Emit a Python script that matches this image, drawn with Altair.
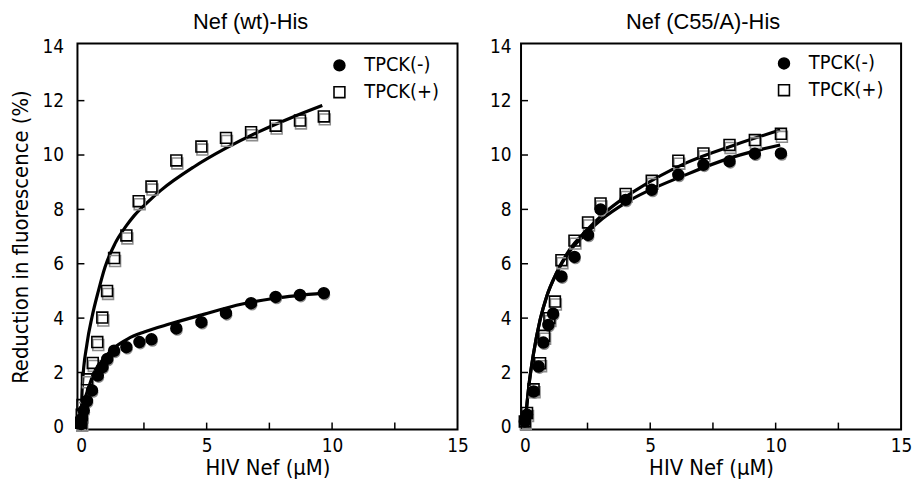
import altair as alt
import pandas as pd

SERIES = ["TPCK(-)", "TPCK(+)"]
TITLES = ["Nef (wt)-His", "Nef (C55/A)-His"]
X_TITLE = "HIV Nef (μM)"
Y_TITLE = "Reduction in fluorescence (%)"
X_LABELS = [0, 5, 10, 15]
X_TICKS = [2.5, 5, 7.5, 10, 12.5]
Y_LABELS = [0, 2, 4, 6, 8, 10, 12, 14]
Y_TICKS = [2, 4, 6, 8, 10, 12]

# ---- Nef (wt)-His ----
wt_minus_x = [0.0, 0.03, 0.10, 0.23, 0.43, 0.66, 0.85, 1.04, 1.31, 1.80, 2.32, 2.80, 3.79, 4.79, 5.77, 6.77, 7.75, 8.72, 9.67]
wt_minus_y = [0.1, 0.3, 0.6, 0.95, 1.34, 1.89, 2.20, 2.50, 2.80, 2.93, 3.12, 3.22, 3.62, 3.85, 4.18, 4.55, 4.78, 4.85, 4.92]
wt_plus_x = [0.0, 0.02, 0.05, 0.23, 0.46, 0.64, 0.84, 1.03, 1.31, 1.80, 2.29, 2.80, 3.79, 4.79, 5.77, 6.77, 7.75, 8.72, 9.67]
wt_plus_y = [0.15, 0.45, 0.8, 1.75, 2.35, 3.12, 4.02, 5.0, 6.21, 7.04, 8.30, 8.84, 9.80, 10.31, 10.63, 10.84, 11.08, 11.27, 11.42]
wt_minus_fit_x = [0.0, 0.04, 0.30, 0.56, 0.95, 1.34, 1.86, 2.51, 3.55, 4.73, 6.42, 7.72, 9.67]
wt_minus_fit_y = [0.1, 0.49, 1.46, 2.08, 2.57, 2.93, 3.24, 3.49, 3.79, 4.10, 4.52, 4.73, 4.92]
wt_plus_fit_x = [0.0, 0.04, 0.23, 0.43, 0.69, 0.95, 1.34, 1.80, 2.12, 2.65, 3.16, 4.47, 5.77, 7.07, 8.37, 9.61]
wt_plus_fit_y = [0.2, 1.46, 3.06, 4.04, 5.02, 5.88, 6.73, 7.40, 7.78, 8.27, 8.69, 9.55, 10.25, 10.85, 11.37, 11.82]

# ---- Nef (C55/A)-His ----
c55_minus_x = [0.0, 0.09, 0.35, 0.55, 0.74, 0.94, 1.13, 1.46, 1.98, 2.52, 3.02, 4.02, 5.06, 6.12, 7.12, 8.16, 9.17, 10.21]
c55_minus_y = [0.2, 0.45, 1.30, 2.22, 3.10, 3.75, 4.16, 5.53, 6.25, 7.06, 8.0, 8.35, 8.72, 9.27, 9.64, 9.77, 10.05, 10.06]
c55_plus_x = [0.0, 0.09, 0.35, 0.61, 0.77, 0.98, 1.20, 1.46, 1.98, 2.52, 3.02, 4.02, 5.06, 6.12, 7.12, 8.16, 9.17, 10.21]
c55_plus_y = [0.2, 0.51, 1.38, 2.34, 3.35, 4.0, 4.61, 6.13, 6.85, 7.52, 8.22, 8.57, 9.05, 9.79, 10.06, 10.37, 10.55, 10.78]
c55_minus_fit_x = [0.0, 0.16, 0.35, 0.61, 0.87, 1.26, 1.78, 2.43, 3.09, 4.0, 6.41, 8.36, 10.18]
c55_minus_fit_y = [0.0, 1.49, 2.71, 3.94, 4.79, 5.65, 6.45, 7.10, 7.65, 8.23, 9.27, 9.94, 10.37]
c55_plus_fit_x = [0.0, 0.16, 0.35, 0.61, 0.87, 1.26, 1.78, 2.43, 3.09, 4.0, 4.45, 6.41, 8.36, 10.18]
c55_plus_fit_y = [0.0, 1.49, 2.71, 3.94, 4.79, 5.65, 6.51, 7.20, 7.80, 8.45, 8.72, 9.70, 10.37, 10.92]


def long(mx, my, px, py):
    return pd.concat([
        pd.DataFrame({"x": mx, "y": my, "series": SERIES[0]}),
        pd.DataFrame({"x": px, "y": py, "series": SERIES[1]}),
    ], ignore_index=True)


W, H = 383, 389
XDOM = [-0.15, 15]
YDOM = [-0.1, 14.1]
LABEL_FONT = "DejaVu Sans Condensed, DejaVu Sans"
TITLE_FONT = "Liberation Sans"
MSIZE = 120


def panel(title, pts, fit, show_ytitle, leg_x, leg_y, title_dx, ylab_pad):
    xs = alt.Scale(domain=XDOM, nice=False, zero=False)
    ys = alt.Scale(domain=YDOM, nice=False, zero=False)
    xaxis = alt.Axis(values=X_LABELS, tickSize=0, domain=False, grid=False,
                     labelFontSize=19, labelFont=LABEL_FONT, labelPadding=7,
                     labelColor="black", labelFlush=False,
                     title=X_TITLE, titleFontSize=22, titleFont=LABEL_FONT,
                     titleFontWeight="normal", titleColor="black", titlePadding=2)
    yaxis_kw = dict(values=Y_LABELS, tickSize=0, domain=False, grid=False,
                    labelFontSize=19, labelFont=LABEL_FONT, labelPadding=ylab_pad,
                    labelColor="black", labelFlush=False)
    if show_ytitle:
        yaxis = alt.Axis(title=Y_TITLE, titleFontSize=22, titleFont=LABEL_FONT,
                         titleFontWeight="normal", titleColor="black",
                         titlePadding=10, **yaxis_kw)
    else:
        yaxis = alt.Axis(title=None, **yaxis_kw)

    shape_scale = alt.Scale(domain=SERIES, range=["circle", "square"])
    fill_scale = alt.Scale(domain=SERIES, range=["black", "transparent"])

    lines = alt.Chart(fit).mark_line(color="black", strokeWidth=3.2, interpolate="monotone").encode(
        x=alt.X("x:Q", scale=xs, axis=xaxis),
        y=alt.Y("y:Q", scale=ys, axis=yaxis),
        detail="series:N",
    )
    shadow_c = alt.Chart(pts).transform_filter(alt.datum.series == SERIES[0]).mark_point(
        shape="circle", filled=True, color="#8c8c8c", size=MSIZE, opacity=1, xOffset=1, yOffset=2
    ).encode(x="x:Q", y="y:Q")
    shadow_s = alt.Chart(pts).transform_filter(alt.datum.series == SERIES[1]).mark_point(
        shape="square", filled=False, color="#8c8c8c", size=MSIZE, opacity=1, strokeWidth=1.6,
        xOffset=1, yOffset=3
    ).encode(x="x:Q", y="y:Q")
    main = alt.Chart(pts).mark_point(size=MSIZE, opacity=1, stroke="black", strokeWidth=1.6).encode(
        x="x:Q", y="y:Q",
        shape=alt.Shape("series:N", scale=shape_scale, legend=None),
        fill=alt.Fill("series:N", scale=fill_scale, legend=None),
    )
    xt = alt.Chart(pd.DataFrame({"x": X_TICKS})).mark_rule(color="black", strokeWidth=1.5).encode(
        x="x:Q", y=alt.value(H), y2=alt.value(H - 7)
    )
    yt = alt.Chart(pd.DataFrame({"y": Y_TICKS})).mark_rule(color="black", strokeWidth=1.5).encode(
        y="y:Q", x=alt.value(0), x2=alt.value(7)
    )
    layers = [lines, shadow_c, shadow_s, main, xt, yt]
    legend_df = pd.DataFrame({"series": SERIES})
    for i, s in enumerate(SERIES):
        base = alt.Chart(legend_df).transform_filter(alt.datum.series == s)
        layers.append(base.mark_point(size=MSIZE, opacity=1, stroke="black", strokeWidth=1.6).encode(
            x=alt.value(leg_x), y=alt.value(leg_y + 27 * i),
            shape=alt.Shape("series:N", legend=None),
            fill=alt.Fill("series:N", legend=None),
        ))
        layers.append(base.mark_text(align="left", baseline="middle", fontSize=20,
                                     font=LABEL_FONT, color="black").encode(
            x=alt.value(leg_x + 25), y=alt.value(leg_y + 27 * i), text="series:N"
        ))
    return alt.layer(*layers).properties(
        width=W, height=H,
        title=alt.TitleParams(title, fontSize=22, font=TITLE_FONT, fontWeight="normal",
                              color="black", offset=3, dx=title_dx),
    )


left = panel(TITLES[0], long(wt_minus_x, wt_minus_y, wt_plus_x, wt_plus_y),
             long(wt_minus_fit_x, wt_minus_fit_y, wt_plus_fit_x, wt_plus_fit_y),
             True, 264, 22, -17, 14)
right = panel(TITLES[1], long(c55_minus_x, c55_minus_y, c55_plus_x, c55_plus_y),
              long(c55_minus_fit_x, c55_minus_fit_y, c55_plus_fit_x, c55_plus_fit_y),
              False, 265, 20, -8, 10)

chart = alt.hconcat(left, right, spacing=19).resolve_scale(
    shape="independent", fill="independent"
).configure_view(
    stroke="black", strokeWidth=2
).properties(background="white", padding={"left": 0, "top": 0, "right": 0, "bottom": 0})

chart.save("out.html", embed_options={"renderer": "svg", "actions": False})
